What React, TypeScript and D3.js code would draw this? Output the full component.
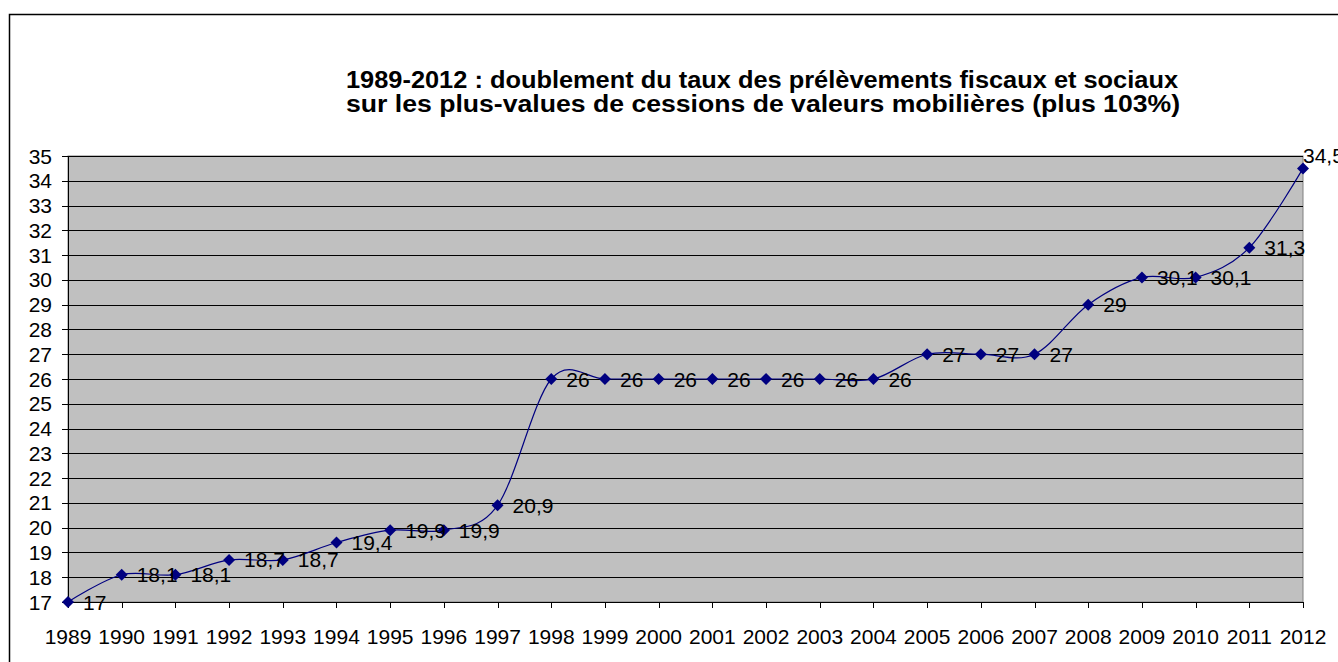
import React from 'react';
import * as d3 from 'd3';

const years = ['1989', '1990', '1991', '1992', '1993', '1994', '1995', '1996', '1997', '1998', '1999', '2000',
    '2001', '2002', '2003', '2004', '2005', '2006', '2007', '2008', '2009', '2010', '2011', '2012'];
const rates = [17, 18.1, 18.1, 18.7, 18.7, 19.4, 19.9, 19.9, 20.9, 26, 26, 26,
    26, 26, 26, 26, 27, 27, 27, 29, 30.1, 30.1, 31.3, 34.5];
const yTicks = d3.range(17, 36);
const titleLines = [
    '1989-2012 : doublement du taux des prélèvements fiscaux et sociaux',
    'sur les plus-values de cessions de valeurs mobilières (plus 103%)',
];
const titleWidths = [832, 834];

const W = 1338;
const H = 662;
const margin = { top: 156, right: 35, bottom: 60, left: 68 };
const font = '"Liberation Sans", Arial, sans-serif';
const navy = '#000080';

export default function App() {
    const x = d3.scalePoint<string>()
        .domain(years)
        .range([margin.left, W - margin.right]);
    const y = d3.scaleLinear()
        .domain([17, 35])
        .range([H - margin.bottom, margin.top]);

    const pts = years.map((yr, i) => ({ yr, v: rates[i], px: x(yr) as number, py: y(rates[i]) }));

    // Excel-like smoothed line
    const line = d3.line<{ px: number; py: number }>()
        .x(d => d.px)
        .y(d => d.py)
        .curve(d3.curveCardinal.tension(0));

    const x0 = margin.left;
    const x1 = W - margin.right;
    const y0 = H - margin.bottom;
    const y1 = margin.top;
    const fmt = (v: number) => String(v).replace('.', ',');

    return (
        <svg width={W} height={H} style={{ position: 'absolute', left: 0, top: 0, display: 'block', background: '#fff' }}
            fontFamily={font}>
            {/* chart area border */}
            <rect x={9.5} y={14.5} width={W} height={H} fill="none" stroke="#000" strokeWidth={1.5} />

            {titleLines.map((t, i) => (
                <text key={i} x={346} y={88 + i * 24} fontSize={23} fontWeight="bold" fill="#000"
                    textLength={titleWidths[i]} lengthAdjust="spacingAndGlyphs">{t}</text>
            ))}

            {/* plot area */}
            <rect x={x0} y={y1} width={x1 - x0} height={y0 - y1} fill="#c0c0c0" stroke="#808080" strokeWidth={1} />

            {yTicks.map(t => (
                <g key={t}>
                    {t > 17 && <line x1={x0} x2={x1} y1={Math.round(y(t)) + 0.5} y2={Math.round(y(t)) + 0.5} stroke="#000" strokeWidth={1} />}
                    <line x1={x0 - 6} x2={x0} y1={Math.round(y(t)) + 0.5} y2={Math.round(y(t)) + 0.5} stroke="#000" />
                    <text x={x0 - 16} y={y(t)} dy="0.36em" textAnchor="end" fontSize={21} fill="#000">{t}</text>
                </g>
            ))}

            {/* axes */}
            <line x1={x0 + 0.5} x2={x0 + 0.5} y1={y1} y2={y0} stroke="#000" />
            <line x1={x0} x2={x1} y1={y0 + 0.5} y2={y0 + 0.5} stroke="#000" />
            {years.map(yr => (
                <g key={yr}>
                    <line x1={Math.round(x(yr) as number) + 0.5} x2={Math.round(x(yr) as number) + 0.5} y1={y0} y2={y0 + 6} stroke="#000" />
                    <text x={x(yr)} y={y0 + 42} textAnchor="middle" fontSize={21} fill="#000">{yr}</text>
                </g>
            ))}

            <path d={line(pts) || ''} fill="none" stroke={navy} strokeWidth={1.2} />

            {pts.map(p => (
                <path key={p.yr} transform={`translate(${p.px},${p.py})`} d="M0,-6L6,0L0,6L-6,0Z" fill={navy} />
            ))}

            {pts.map((p, i) => {
                const last = i === pts.length - 1;
                return (
                    <text key={'l' + p.yr} x={last ? p.px : p.px + 15} y={last ? p.py - 13 : p.py} dy="0.36em"
                        fontSize={21} fill="#000">{fmt(p.v)}</text>
                );
            })}
        </svg>
    );
}
